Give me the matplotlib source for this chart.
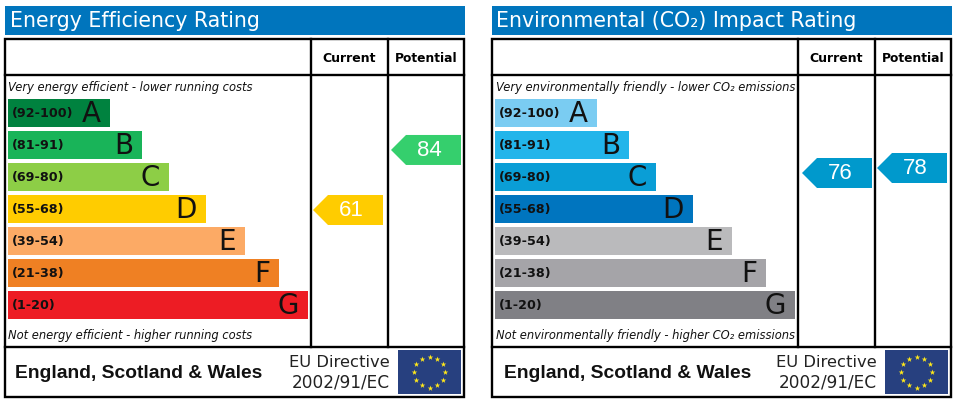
"""Energy / environmental rating graphs, two panels side by side."""

import numpy as np
import matplotlib
matplotlib.use("Agg")
import matplotlib.pyplot as plt
from matplotlib.patches import Polygon, Rectangle

bands = ["(92-100)", "(81-91)", "(69-80)", "(55-68)", "(39-54)", "(21-38)", "(1-20)"]
letters = ["A", "B", "C", "D", "E", "F", "G"]

# bar lengths
bar_len = [102, 134, 161, 198, 237, 271, 300]

energy_colors = ["#00823f", "#19b459", "#8dce46", "#ffcc00", "#fcaa65", "#ef8023", "#ed1c24"]
env_colors = ["#7accf2", "#22b5ea", "#0a9ed6", "#0075bf", "#bababc", "#a5a4a8", "#808085"]

energy_current = 61
energy_potential = 84
env_current = 76
env_potential = 78

SANS = "DejaVu Sans"
ARIAL = "Liberation Sans"
BLUE = "#0075bd"
LW = 1.7


def arrow(ax, x0, yc, score, color):
    # tag pointing left, 70 px wide and 30 high
    ax.add_patch(Polygon([(x0, yc), (x0 + 15, yc - 15), (x0 + 70, yc - 15),
                          (x0 + 70, yc + 15), (x0 + 15, yc + 15)],
                         closed=True, fc=color, ec="none", zorder=3))
    ax.text(x0 + 38, yc + 0.5, str(score), color="white", fontsize=16, family=ARIAL,
            ha="center", va="center", zorder=4)


def panel(ax, ox, title, top_note, bottom_note, colors, cur, pot, cur_y, pot_y, cur_col, pot_col):
    ax.add_patch(Rectangle((ox + 5, 6), 460, 29, fc=BLUE, ec="none"))
    ax.text(ox + 9.5, 21, title, color="white", fontsize=14.8, family=SANS, va="center")

    # table frame
    ax.add_patch(Rectangle((ox + 5, 39), 459, 358, ec="black", lw=LW, zorder=2.5, fill=False))
    ax.plot([ox + 5, ox + 464], [75, 75], color="k", lw=LW, zorder=2.5)
    ax.plot([ox + 5, ox + 464], [346.5, 346.5], color="k", lw=LW, zorder=2.5)
    ax.plot([ox + 311, ox + 311], [39, 346.5], color="k", lw=LW, zorder=2.5)
    ax.plot([ox + 388, ox + 388], [39, 346.5], color="k", lw=LW, zorder=2.5)
    ax.text(ox + 349.5, 58.5, "Current", fontsize=9, weight="bold", family=SANS,
            ha="center", va="center")
    ax.text(ox + 426, 58.5, "Potential", fontsize=8.8, weight="bold", family=SANS,
            ha="center", va="center")

    ys = 113 + 32 * np.arange(len(bands))
    ax.barh(ys, bar_len, height=28, left=ox + 8, color=colors, zorder=2)
    for y, b, l, w in zip(ys, bands, letters, bar_len):
        ax.text(ox + 12, y + 0.5, b, fontsize=9.2, weight="bold", family=SANS, color="#111111",
                va="center", zorder=3)
        ax.text(ox + 8 + w - 9, y + 0.5, l, fontsize=20, family=SANS, color="#111111",
                ha="right", va="center", zorder=3)

    ax.text(ox + 8.5, 87, top_note, fontsize=8.3, style="italic", family=SANS, color="#111111",
            va="center")
    ax.text(ox + 8.5, 336, bottom_note, fontsize=8.3, style="italic", family=SANS, color="#111111",
            va="center")

    arrow(ax, ox + 313 + (2 if ox else 0), cur_y, cur, cur_col)
    arrow(ax, ox + 391 - (1 if ox else 0), pot_y, pot, pot_col)

    # footer
    ax.text(ox + (15 if not ox else 17), 373.5, "England, Scotland & Wales", fontsize=13.9,
            weight="bold", family=ARIAL, color="#111111", va="center")
    ax.text(ox + 390, 362.5, "EU Directive", fontsize=11.8, family=SANS, color="#222222",
            ha="right", va="center")
    ax.text(ox + 390, 382.5, "2002/91/EC", fontsize=12.2, family=SANS, color="#222222",
            ha="right", va="center")

    # EU flag
    ax.add_patch(Rectangle((ox + 398, 350), 63, 44, fc="#27407f", ec="none"))
    ang = np.deg2rad(np.arange(12) * 30)
    ax.scatter(ox + 429.5 + 15.5 * np.sin(ang), 372 - 15.5 * np.cos(ang), marker="*", s=18,
               color="#ffe81a", linewidths=0, zorder=3)


fig = plt.figure(figsize=(9.57, 4.04), dpi=100)
ax = fig.add_axes([0, 0, 1, 1])
ax.set_xlim(0, 957)
ax.set_ylim(404, 0)
ax.axis("off")

panel(ax, 0, "Energy Efficiency Rating",
      "Very energy efficient - lower running costs",
      "Not energy efficient - higher running costs",
      energy_colors, energy_current, energy_potential,
      210 + (61 - energy_current) * 2.61, 210 + (61 - energy_potential) * 2.61,
      "#ffcc00", "#35cf6d")
panel(ax, 487, "Environmental (CO\u2082) Impact Rating",
      "Very environmentally friendly - lower CO\u2082 emissions",
      "Not environmentally friendly - higher CO\u2082 emissions",
      env_colors, env_current, env_potential,
      173 + (76 - env_current) * 2.5, 173 + (76 - env_potential) * 2.5,
      "#0099cc", "#0099cc")

fig.savefig("out.png", dpi=100)
plt.close(fig)
